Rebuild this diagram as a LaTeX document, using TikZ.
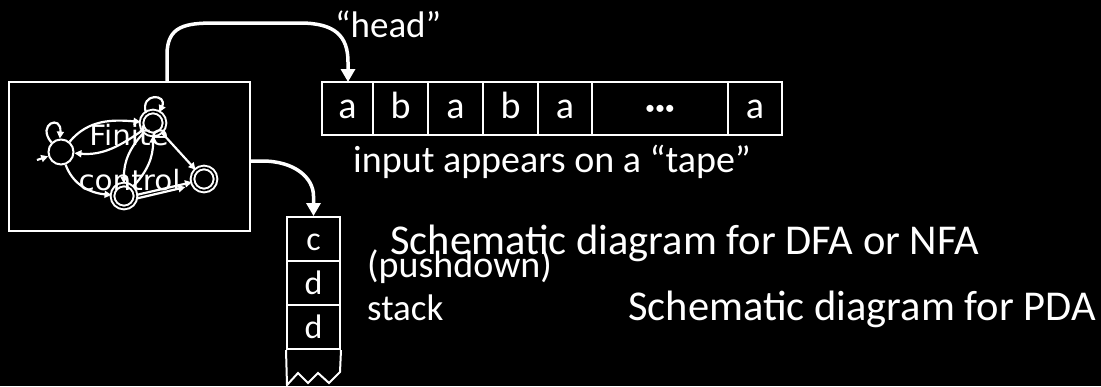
\documentclass[tikz,border=0pt]{standalone}
\usepackage{fontspec}
\usepackage{graphicx}
\setmainfont{Carlito}
\newfontfamily\statefont{DejaVu Sans}
\usetikzlibrary{arrows.meta}
\begin{document}
\begin{tikzpicture}[x=1pt,y=-1pt,
  wire/.style={draw=white,line width=2pt},
  bigarrow/.style={draw=white,line width=3.5pt,-{Triangle[length=13pt,width=14pt]}},
  smallarrow/.style={draw=white,line width=2.2pt,-{Triangle[length=7pt,width=7pt]}},
  cell/.style={draw=white,line width=2pt,minimum height=53pt,inner sep=0pt,text=white,
    font=\fontsize{38}{40}\selectfont,text height=19pt,text depth=0pt},
  scell/.style={draw=white,line width=2pt,minimum width=53pt,minimum height=44pt,inner sep=0pt,text=white,
    font=\fontsize{34}{36}\selectfont,text height=22pt,text depth=0pt},
  state/.style={circle,draw=white,line width=2pt,minimum size=25pt,inner sep=0pt},
  accept/.style={state,double=black,double distance=1.6pt,minimum size=23pt},
  txt/.style={text=white,inner sep=0pt,anchor=base west},
  lbl/.style={txt,font=\fontsize{38}{40}\selectfont},
  big/.style={txt,font=\fontsize{42.5}{46}\selectfont},
  ctltxt/.style={text=white,inner sep=0pt,anchor=base,font=\statefont\fontsize{28}{32}\selectfont}
]
\fill[black] (0,0) rectangle (1101,386);

% finite control box
\node[draw=white,line width=2pt,minimum width=241pt,minimum height=149pt,inner sep=0pt] (fc) at (129.5,156.5) {};

% states
\node[state]  (L) at (61,152) {};
\node[accept] (T) at (153,123) {};
\node[accept] (R) at (204,179) {};
\node[accept] (B) at (124,196) {};
\coordinate (start) at (37,160);
\draw[smallarrow] (start) -- (L);
\draw[smallarrow] (L.135) .. controls (36,124) and (62,114) .. (L.95);
\draw[smallarrow] (T.125) .. controls (140,92) and (168,94) .. (T.60);
\draw[smallarrow] (L) to[out=50,in=175] (T);
\draw[smallarrow] (T) to[out=215,in=-5] (L);
\draw[smallarrow] (T) -- (R);
\draw[smallarrow] (T) to[bend right=22] (B);
\draw[smallarrow] (B) to[bend right=22] (T);
\draw[smallarrow] (L) to[out=-70,in=175] (B);
\draw[smallarrow] (B.5) -- (R.195);
\draw[smallarrow,shorten >=8pt] (B.-12) -- (R.210);

\node[ctltxt] (fin) at (129,145) {\scalebox{1.05}[1]{Finite}};
\node[ctltxt] (ctl) at (129.5,190) {\scalebox{1.05}[1]{control}};

% tape
\node[cell,minimum width=51pt]  (c1) at (347.5,108.5) {a};
\node[cell,minimum width=55pt]  (c2) at (400.5,108.5) {b};
\node[cell,minimum width=55pt]  (c3) at (455.5,108.5) {a};
\node[cell,minimum width=55pt]  (c4) at (510.5,108.5) {b};
\node[cell,minimum width=54pt]  (c5) at (565,108.5) {a};
\node[cell,minimum width=136pt,text height=12pt,font=\fontsize{20}{22}\selectfont] (c6) at (660,108.5) {•••};
\node[cell,minimum width=54pt]  (c7) at (755,108.5) {a};

% stack
\node[scell] (s1) at (313.5,239) {c};
\node[scell] (s2) at (313.5,283) {d};
\node[scell] (s3) at (313.5,327) {d};
\coordinate (z1) at (287,385);
\coordinate (z2) at (298,373);
\coordinate (z3) at (308,383);
\coordinate (z4) at (318,373);
\coordinate (z5) at (329,383);
\coordinate (z6) at (340,372);
\draw[wire,line join=miter] (s3.south west) -- (z1) -- (z2) -- (z3) -- (z4) -- (z5) -- (z6) -- (s3.south east);

% arrows
\coordinate (hs) at (167,82);
\coordinate (hend) at (348,82);
\draw[bigarrow] (hs) -- (167,55) .. controls (167,26) and (185,23) .. (215,23) -- (300,23) .. controls (335,23) and (348,36) .. (348,62) -- (hend);
\coordinate (ss) at (251,161);
\draw[bigarrow] (ss) -- (262,161) .. controls (295,161) and (313.5,178) .. (313.5,196) -- (s1.north);

% labels
\node[lbl,font=\fontsize{37}{40}\selectfont] (head) at (335,37) {“head”};
\node[lbl] (tape) at (353,172) {input appears on a “tape”};
\node[big] (dfa) at (390,254) {Schematic diagram for DFA or NFA};
\node[lbl] (push) at (367,277) {(pushdown)};
\node[lbl,font=\fontsize{37}{40}\selectfont] (stk) at (367,320) {stack};
\node[big] (pda) at (628,320) {Schematic diagram for PDA};
\end{tikzpicture}
\end{document}
